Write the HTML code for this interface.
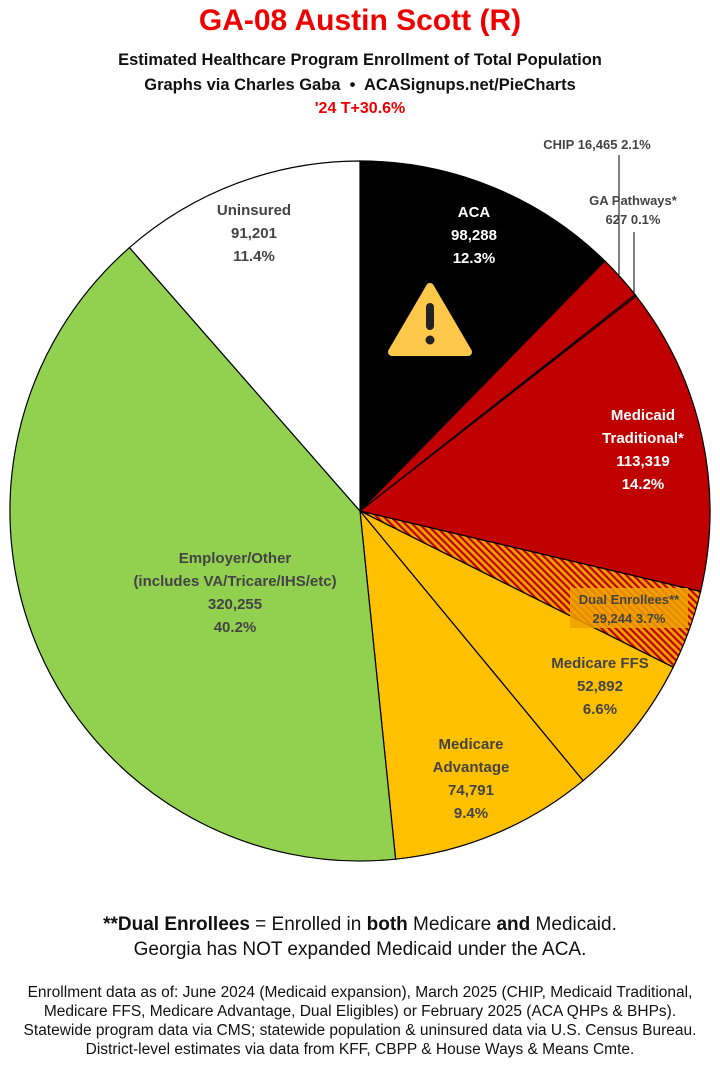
<!DOCTYPE html>
<html><head><meta charset="utf-8"><style>
body{margin:0;background:#fff;width:720px;height:1070px;overflow:hidden;font-family:"Liberation Sans",sans-serif;}
.t{position:absolute;left:0;width:720px;text-align:center;font-weight:bold;}
</style></head><body>
<div class="t" style="top:4px;font-size:30px;color:#e00;">GA-08 Austin Scott (R)</div>
<div class="t" style="top:51px;font-size:16.5px;color:#111;">Estimated Healthcare Program Enrollment of Total Population</div>
<div class="t" style="top:76px;font-size:16.5px;color:#111;">Graphs via Charles Gaba &nbsp;•&nbsp; ACASignups.net/PieCharts</div>
<div class="t" style="top:100px;font-size:16px;color:#e00;">'24 T+30.6%</div>
<svg width="720" height="1070" style="position:absolute;left:0;top:0" font-family="Liberation Sans, sans-serif" font-weight="bold">
<defs><pattern id="h" width="5" height="5" patternUnits="userSpaceOnUse" patternTransform="rotate(-45)"><rect width="5" height="5" fill="#f0a000"/><rect width="2.2" height="5" fill="#c00000"/></pattern></defs>
<g stroke="#000" stroke-width="1.2">
<path d="M360,511 L360,161 A350,350 0 0 1 604.8,260.9Z" fill="#000"/>
<path d="M360,511 L604.8,260.9 A350,350 0 0 1 635.1,294.6Z" fill="#c00000"/>
<path d="M360,511 L635.1,294.6 A350,350 0 0 1 636.2,296.1Z" fill="#c00000"/>
<path d="M360,511 L636.2,296.1 A350,350 0 0 1 700.6,591.5Z" fill="#c00000"/>
<path d="M360,511 L700.6,591.5 A350,350 0 0 1 673.2,667.2Z" fill="url(#h)"/>
<path d="M360,511 L673.2,667.2 A350,350 0 0 1 583.1,780.7Z" fill="#ffc000"/>
<path d="M360,511 L583.1,780.7 A350,350 0 0 1 395.6,859.2Z" fill="#ffc000"/>
<path d="M360,511 L395.6,859.2 A350,350 0 0 1 129.5,247.6Z" fill="#92d050"/>
<path d="M360,511 L129.5,247.6 A350,350 0 0 1 360,161Z" fill="#fff"/>
</g>
<line x1="619" y1="155" x2="619" y2="278" stroke="#000"/>
<line x1="634" y1="232" x2="634" y2="297" stroke="#000"/>
<rect x="570" y="588" width="118" height="40" fill="#f0a000" opacity="0.85"/>
<g text-anchor="middle" font-size="15">
<text x="474" y="217" fill="#fff">ACA</text><text x="474" y="240" fill="#fff">98,288</text><text x="474" y="263" fill="#fff">12.3%</text>
<text x="254" y="215" fill="#444">Uninsured</text><text x="254" y="238" fill="#444">91,201</text><text x="254" y="261" fill="#444">11.4%</text>
<text x="643" y="420" fill="#fff">Medicaid</text><text x="643" y="443" fill="#fff">Traditional*</text><text x="643" y="466" fill="#fff">113,319</text><text x="643" y="489" fill="#fff">14.2%</text>
<text x="600" y="668" fill="#444">Medicare FFS</text><text x="600" y="691" fill="#444">52,892</text><text x="600" y="714" fill="#444">6.6%</text>
<text x="471" y="749" fill="#444">Medicare</text><text x="471" y="772" fill="#444">Advantage</text><text x="471" y="795" fill="#444">74,791</text><text x="471" y="818" fill="#444">9.4%</text>
<text x="235" y="563" fill="#444">Employer/Other</text><text x="235" y="586" fill="#444">(includes VA/Tricare/IHS/etc)</text><text x="235" y="609" fill="#444">320,255</text><text x="235" y="632" fill="#444">40.2%</text>
<g font-size="13" fill="#444"><text x="629" y="604">Dual Enrollees**</text><text x="629" y="623">29,244 3.7%</text>
<text x="597" y="149">CHIP 16,465 2.1%</text>
<text x="633" y="205">GA Pathways*</text><text x="633" y="224">627 0.1%</text></g>
</g>
<path d="M430,287 L468,352 L392,352Z" fill="#ffc84a" stroke="#ffc84a" stroke-width="8" stroke-linejoin="round"/>
<rect x="426" y="303" width="8" height="27" rx="4" fill="#222"/><circle cx="430" cy="340" r="4.5" fill="#222"/>
</svg>
<div class="t" style="top:914px;font-size:19px;color:#111;font-weight:normal;"><b>**Dual Enrollees</b> = Enrolled in <b>both</b> Medicare <b>and</b> Medicaid.</div>
<div class="t" style="top:939px;font-size:19px;color:#111;font-weight:normal;">Georgia has NOT expanded Medicaid under the ACA.</div>
<div class="t" style="top:983px;font-size:15.5px;color:#111;font-weight:normal;line-height:19px;">Enrollment data as of: June 2024 (Medicaid expansion), March 2025 (CHIP, Medicaid Traditional,<br>Medicare FFS, Medicare Advantage, Dual Eligibles) or February 2025 (ACA QHPs &amp; BHPs).<br>Statewide program data via CMS; statewide population &amp; uninsured data via U.S. Census Bureau.<br>District-level estimates via data from KFF, CBPP &amp; House Ways &amp; Means Cmte.</div>
</body></html>
